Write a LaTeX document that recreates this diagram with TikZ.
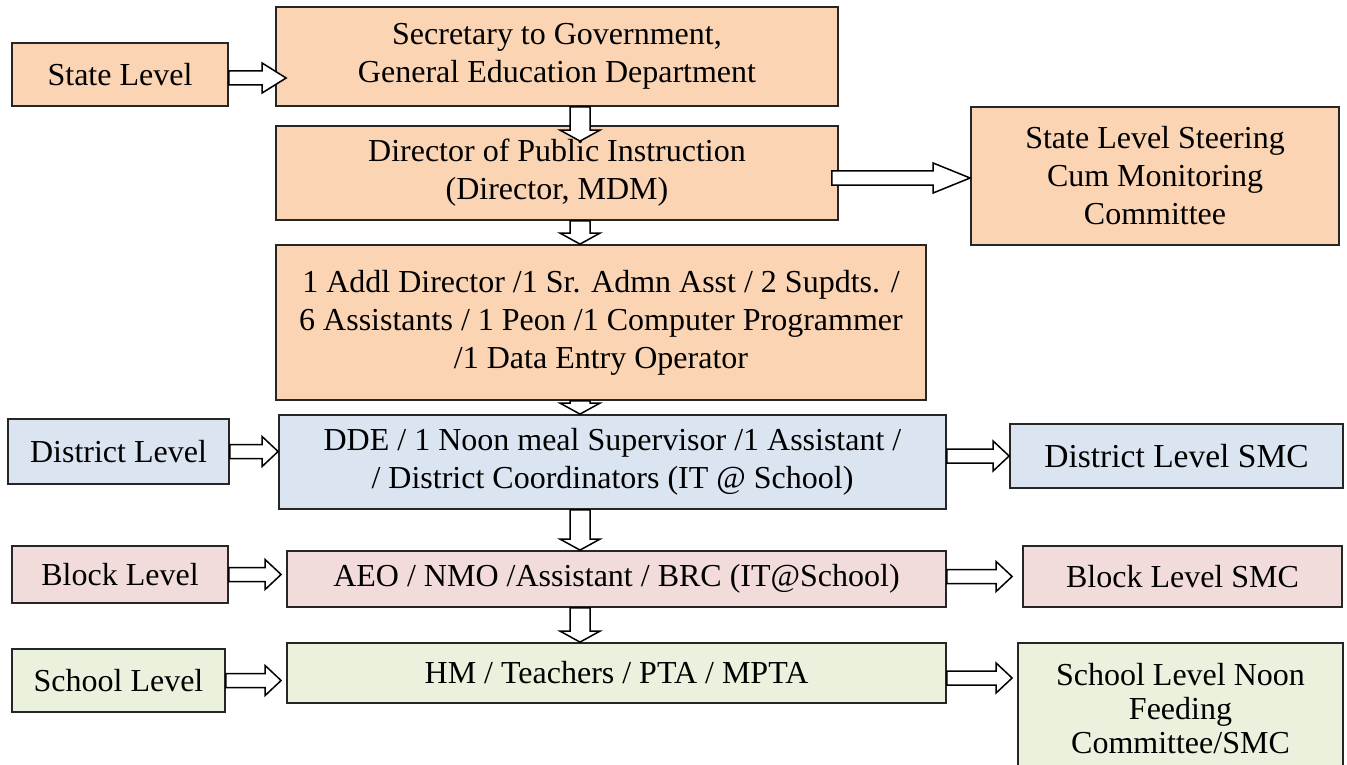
\documentclass[tikz,border=0pt]{standalone}
\usepackage{fontspec}
\setmainfont{Liberation Serif}
\usetikzlibrary{calc}

\definecolor{peach}{HTML}{FBD4B4}
\definecolor{paleblue}{HTML}{DBE5F1}
\definecolor{palepink}{HTML}{F2DCDB}
\definecolor{palegreen}{HTML}{EAF1DD}

% hollow block arrows: right-pointing (y taken from the start) and downward (x taken from the start)
\newcommand\harrow[3][16]{%
  \draw[blockarrow] let \p1=#2, \p2=#3 in
    (\x1,\y1+7pt) -- (\x2-#1pt,\y1+7pt) -- (\x2-#1pt,\y1+15pt) -- (\x2,\y1)
    -- (\x2-#1pt,\y1-15pt) -- (\x2-#1pt,\y1-7pt) -- (\x1,\y1-7pt) -- cycle;}
\newcommand\varrow[2]{%
  \draw[blockarrow] let \p1=#1, \p2=#2 in
    (\x1-10pt,\y1) -- (\x1-10pt,\y2+11pt) -- (\x1-20pt,\y2+11pt) -- (\x1,\y2)
    -- (\x1+20pt,\y2+11pt) -- (\x1+10pt,\y2+11pt) -- (\x1+10pt,\y1) -- cycle;}

\begin{document}
\begin{tikzpicture}[x=1pt, y=-1pt,
    box/.style={draw=black!85, line width=1.8pt, rectangle, align=center, inner sep=0pt,
      font=\fontsize{32}{38}\selectfont},
    state/.style={box, fill=peach},
    district/.style={box, fill=paleblue},
    block/.style={box, fill=palepink},
    school/.style={box, fill=palegreen},
    blockarrow/.style={draw=black, fill=white, line width=1.5pt, line join=miter}]
  \clip (0,0) rectangle (1347,765);
  \coordinate (spine) at (580,0);

  % state level
  \node[state, minimum width=216, minimum height=63] (stlevel) at (120,74.5) {State Level};
  \node[state, minimum width=562, minimum height=99] (sec) at (557,56.5)
    {Secretary to Government,\\General Education Department};
  \node[state, minimum width=562, minimum height=94] (dpi) at (557,173)
    {Director of Public Instruction\\(Director, MDM)};
  \node[state, minimum width=368, minimum height=138] (steer) at (1155,176)
    {State Level Steering\\Cum Monitoring\\Committee};
  \node[state, minimum width=650, minimum height=155] (staff) at (601,322.5)
    {1 Addl Director /1 Sr. Admn Asst / 2 Supdts. /\\
     6 Assistants / 1 Peon /1 Computer Programmer\\/1 Data Entry Operator};

  % district level
  \node[district, minimum width=667, minimum height=94] (dde) at (612.5,462)
    {DDE / 1 Noon meal Supervisor /1 Assistant /\\/ District Coordinators (IT @ School)};
  \node[district, minimum width=221, minimum height=65] (dlevel) at (118.5,451.5) {District Level};
  \node[district, minimum width=333, minimum height=64, font=\fontsize{33.5}{38}\selectfont]
    (dsmc) at (1176.5,456) {District Level SMC};

  % block level
  \node[block, minimum width=216, minimum height=57] (blevel) at (120,574.5) {Block Level};
  \node[block, minimum width=659, minimum height=56] (aeo) at (616.5,579)
    {AEO / NMO /Assistant / BRC (IT@School)};
  \node[block, minimum width=319, minimum height=61] (bsmc) at (1182.5,576.5) {Block Level SMC};

  % school level
  \node[school, minimum width=213, minimum height=63] (slevel) at (118.5,680.5) {School Level};
  \node[school, minimum width=659, minimum height=60] (hm) at (616.5,673)
    {HM / Teachers / PTA / MPTA};
  \node[school, minimum width=325, minimum height=132, font=\fontsize{32}{34}\selectfont]
    (ssmc) at (1180.5,709) {School Level Noon\\Feeding\\Committee/SMC};

  % arrows
  \harrow[24]{($(stlevel.east)+(0,3.5)$)}{($(sec.west)+(11,0)$)}
  \varrow{(sec.south -| spine)}{($(dpi.north -| spine)+(0,16)$)}
  \varrow{(dpi.south -| spine)}{(staff.north -| spine)}
  \harrow[37]{($(dpi.east)+(-7,5)$)}{(steer.west)}
  \varrow{(staff.south -| spine)}{(dde.north -| spine)}
  \harrow{(dlevel.east)}{(dde.west)}
  \harrow{(dde.east |- dsmc.west)}{(dsmc.west)}
  \varrow{(dde.south -| spine)}{(aeo.north -| spine)}
  \harrow{(blevel.east)}{($(aeo.west)+(-5,0)$)}
  \harrow{(aeo.east |- bsmc.west)}{($(bsmc.west)+(-10,0)$)}
  \varrow{(aeo.south -| spine)}{(hm.north -| spine)}
  \harrow{(slevel.east)}{($(hm.west)+(-5,0)$)}
  \harrow{($(hm.east)+(0,5)$)}{($(ssmc.west)+(-5,0)$)}
\end{tikzpicture}
\end{document}
